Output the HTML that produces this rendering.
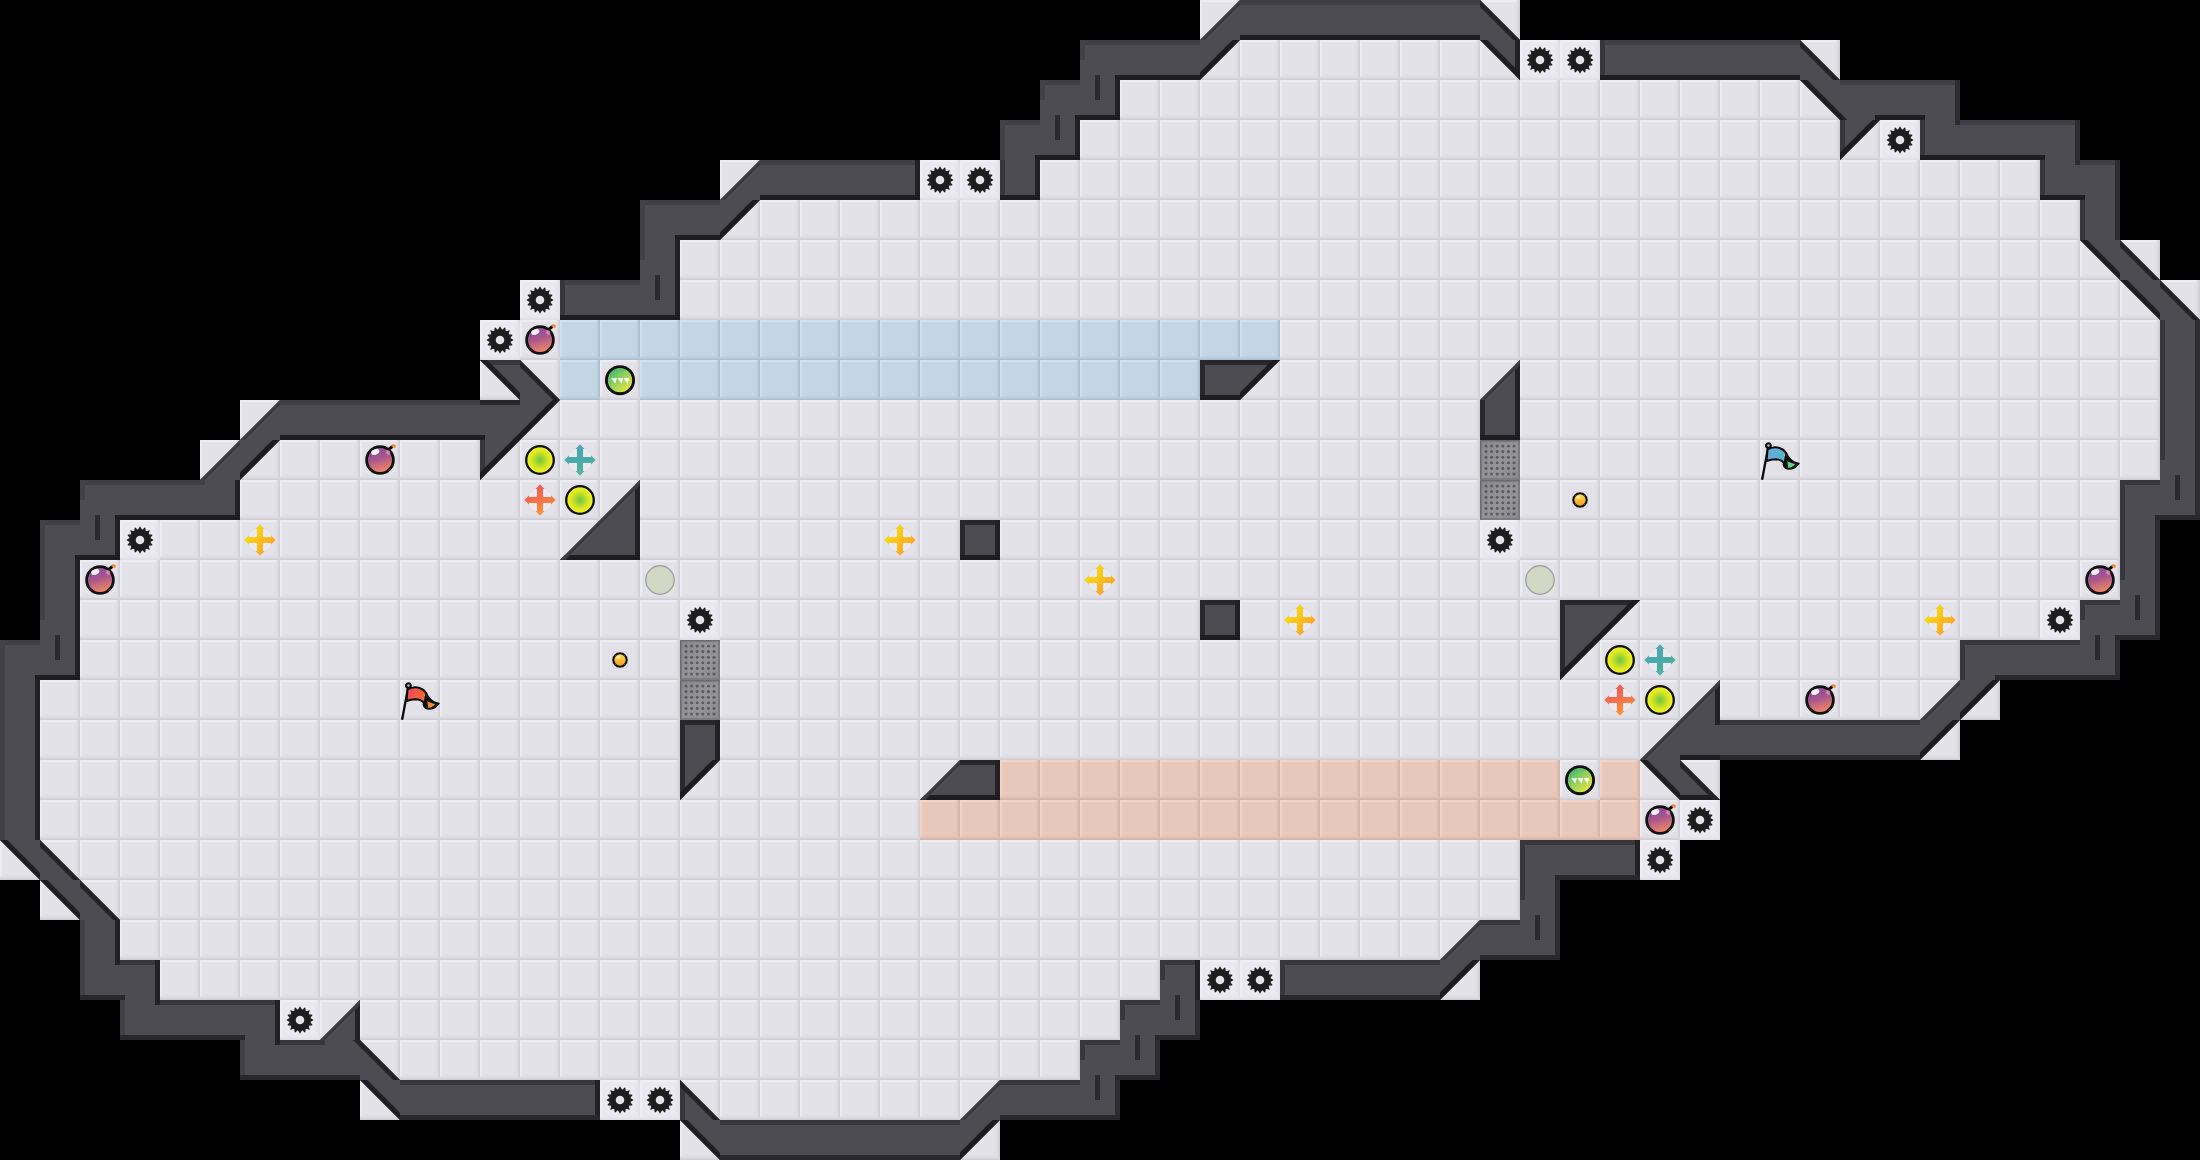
<!DOCTYPE html>
<html><head><meta charset="utf-8"><title>Map</title>
<style>html,body{margin:0;padding:0;background:#000;font-family:"Liberation Sans",sans-serif}svg{display:block}</style>
</head><body>
<svg width="2200" height="1160" viewBox="0 0 2200 1160" shape-rendering="geometricPrecision">
<defs>
<pattern id="ff" width="40" height="40" patternUnits="userSpaceOnUse">
<rect width="40" height="40" fill="#e2e1e7"/>
<rect x="7" y="7" width="26" height="26" fill="none" stroke="#e7e6ec" stroke-width="1"/>
<rect width="40" height="2.3" fill="#edecf2"/><rect width="2.3" height="40" fill="#edecf2"/>
<rect x="36.6" width="1.2" height="40" fill="#dddce2"/><rect x="37.8" width="1.1" height="40" fill="#d6d5dc"/><rect x="38.9" width="1.1" height="40" fill="#cfced6"/>
<rect y="36.6" width="40" height="1.2" fill="#dddce2"/><rect y="37.8" width="40" height="1.1" fill="#d6d5dc"/><rect y="38.9" width="40" height="1.1" fill="#cfced6"/>
</pattern>
<pattern id="fb" width="40" height="40" patternUnits="userSpaceOnUse">
<rect width="40" height="40" fill="#c4d6e6"/>
<rect width="40" height="2.3" fill="#d0e2f1"/><rect width="2.3" height="40" fill="#d0e2f1"/>
<rect x="36.6" width="1.2" height="40" fill="#bccee0"/><rect x="37.8" width="1.1" height="40" fill="#b4c7d9"/><rect x="38.9" width="1.1" height="40" fill="#acbfd2"/>
<rect y="36.6" width="40" height="1.2" fill="#bccee0"/><rect y="37.8" width="40" height="1.1" fill="#b4c7d9"/><rect y="38.9" width="40" height="1.1" fill="#acbfd2"/>
</pattern>
<pattern id="fr" width="40" height="40" patternUnits="userSpaceOnUse">
<rect width="40" height="40" fill="#e8c8ba"/>
<rect width="40" height="2.3" fill="#f4d4c6"/><rect width="2.3" height="40" fill="#f4d4c6"/>
<rect x="36.6" width="1.2" height="40" fill="#e2c0b2"/><rect x="37.8" width="1.1" height="40" fill="#dcb9ab"/><rect x="38.9" width="1.1" height="40" fill="#d6b4a8"/>
<rect y="36.6" width="40" height="1.2" fill="#e2c0b2"/><rect y="37.8" width="40" height="1.1" fill="#dcb9ab"/><rect y="38.9" width="40" height="1.1" fill="#d6b4a8"/>
</pattern>
<linearGradient id="gbm" x1="0" y1="0" x2="0.3" y2="1"><stop offset="0" stop-color="#8c48a6"/><stop offset="0.5" stop-color="#a4548e"/><stop offset="1" stop-color="#ec846c"/></linearGradient>
<radialGradient id="gpo" cx="0.5" cy="0.5" r="0.5"><stop offset="0" stop-color="#74c440"/><stop offset="0.7" stop-color="#e2ec22"/><stop offset="1" stop-color="#eef020"/></radialGradient>
<linearGradient id="ggp" x1="0.15" y1="0.1" x2="0.85" y2="0.95"><stop offset="0" stop-color="#3cb474"/><stop offset="0.5" stop-color="#9cd45a"/><stop offset="1" stop-color="#f4e63c"/></linearGradient>
<linearGradient id="gby" x1="0.1" y1="0.1" x2="0.9" y2="0.9"><stop offset="0" stop-color="#f8de10"/><stop offset="0.5" stop-color="#fcc21c"/><stop offset="1" stop-color="#ff9528"/></linearGradient>
<linearGradient id="gbr" x1="0.3" y1="0" x2="0.7" y2="1"><stop offset="0" stop-color="#f4505c"/><stop offset="0.5" stop-color="#f87448"/><stop offset="1" stop-color="#fc9a30"/></linearGradient>
<linearGradient id="gbb" x1="0.3" y1="0" x2="0.7" y2="1"><stop offset="0" stop-color="#48a4c0"/><stop offset="0.5" stop-color="#4aaaa8"/><stop offset="1" stop-color="#52b89c"/></linearGradient>
<linearGradient id="gbt" x1="0" y1="0" x2="0" y2="1"><stop offset="0" stop-color="#ffe048"/><stop offset="1" stop-color="#f59a1c"/></linearGradient>
<linearGradient id="gfr" x1="0" y1="0" x2="1" y2="0.4"><stop offset="0" stop-color="#f24458"/><stop offset="1" stop-color="#f86a38"/></linearGradient>
<linearGradient id="gfb" x1="0" y1="0" x2="1" y2="0.4"><stop offset="0" stop-color="#62aee8"/><stop offset="1" stop-color="#5cb4c4"/></linearGradient>
<linearGradient id="ggt" x1="0" y1="0" x2="1" y2="1"><stop offset="0" stop-color="#8a8a8d"/><stop offset="0.5" stop-color="#969699"/><stop offset="1" stop-color="#8e8e91"/></linearGradient>
<g id="sp"><rect width="40" height="40" fill="#f2f2f6" opacity="0.45"/><path d="M20.0 6.3L22.05 9.7L25.24 7.34L25.83 11.27L29.69 10.31L28.73 14.17L32.66 14.76L30.3 17.95L33.7 20.0L30.3 22.05L32.66 25.24L28.73 25.83L29.69 29.69L25.83 28.73L25.24 32.66L22.05 30.3L20.0 33.7L17.95 30.3L14.76 32.66L14.17 28.73L10.31 29.69L11.27 25.83L7.34 25.24L9.7 22.05L6.3 20.0L9.7 17.95L7.34 14.76L11.27 14.17L10.31 10.31L14.17 11.27L14.76 7.34L17.95 9.7z" fill="#1d1d1d"/><circle cx="20" cy="20" r="4.3" fill="#e4e3e8"/></g>
<g id="bm"><circle cx="20" cy="20" r="15.5" fill="#f0f0f4" opacity="0.5"/><path d="M28.3 9.6L31.8 7" stroke="#111" stroke-width="3" fill="none" stroke-linecap="round"/><circle cx="20" cy="20" r="13.4" fill="url(#gbm)" stroke="#121212" stroke-width="2.8"/><ellipse cx="15.3" cy="11.9" rx="4.3" ry="2.7" fill="#fff" opacity="0.95" transform="rotate(-22 15.3 11.9)"/><ellipse cx="28.2" cy="12.4" rx="1.9" ry="2.6" fill="#f59ac0" opacity="0.7" transform="rotate(-35 28.2 12.4)"/><path d="M32 4.2L35.8 4.8L35.2 8L32.3 7.4Z" fill="#f68a1e"/></g>
<g id="po"><circle cx="20" cy="20" r="13.8" fill="url(#gpo)" stroke="#0f0f14" stroke-width="2.3"/></g>
<g id="pf"><circle cx="20" cy="20" r="14.2" fill="#d1d9c5" stroke="#a2a4a2" stroke-width="1.4"/></g>
<g id="gp"><circle cx="20" cy="20.2" r="13.6" fill="url(#ggp)" stroke="#111" stroke-width="2.9"/><path d="M11 18h5.9l-1.6 5.6zM17.2 18h5.9l-1.6 5.6zM23.4 18h5.9l-1.6 5.6z" fill="#fff" opacity="0.95"/></g>
<g id="by"><circle cx="20" cy="20" r="12.2" fill="#f1f1f6" opacity="0.6" stroke="#d9d9e6" stroke-width="0.8" stroke-dasharray="2 1.5"/><path d="M17.0 17.0L17.0 9.1L15.6 9.1L20.0 4.3L24.4 9.1L23.0 9.1L23.0 17.0L23.0 17.0L30.9 17.0L30.9 15.6L35.7 20.0L30.9 24.4L30.9 23.0L23.0 23.0L23.0 23.0L23.0 30.9L24.4 30.9L20.0 35.7L15.6 30.9L17.0 30.9L17.0 23.0L17.0 23.0L9.1 23.0L9.1 24.4L4.3 20.0L9.1 15.6L9.1 17.0L17.0 17.0z" fill="url(#gby)"/></g>
<g id="br"><circle cx="20" cy="20" r="12.2" fill="#f1f1f6" opacity="0.6" stroke="#d9d9e6" stroke-width="0.8" stroke-dasharray="2 1.5"/><path d="M17.0 17.0L17.0 9.1L15.6 9.1L20.0 4.3L24.4 9.1L23.0 9.1L23.0 17.0L23.0 17.0L30.9 17.0L30.9 15.6L35.7 20.0L30.9 24.4L30.9 23.0L23.0 23.0L23.0 23.0L23.0 30.9L24.4 30.9L20.0 35.7L15.6 30.9L17.0 30.9L17.0 23.0L17.0 23.0L9.1 23.0L9.1 24.4L4.3 20.0L9.1 15.6L9.1 17.0L17.0 17.0z" fill="url(#gbr)"/></g>
<g id="bb"><circle cx="20" cy="20" r="12.2" fill="#f1f1f6" opacity="0.6" stroke="#d9d9e6" stroke-width="0.8" stroke-dasharray="2 1.5"/><path d="M17.0 17.0L17.0 9.1L15.6 9.1L20.0 4.3L24.4 9.1L23.0 9.1L23.0 17.0L23.0 17.0L30.9 17.0L30.9 15.6L35.7 20.0L30.9 24.4L30.9 23.0L23.0 23.0L23.0 23.0L23.0 30.9L24.4 30.9L20.0 35.7L15.6 30.9L17.0 30.9L17.0 23.0L17.0 23.0L9.1 23.0L9.1 24.4L4.3 20.0L9.1 15.6L9.1 17.0L17.0 17.0z" fill="url(#gbb)"/></g>
<g id="bt"><circle cx="20" cy="20" r="6.7" fill="url(#gbt)" stroke="#111" stroke-width="2.1"/><ellipse cx="18.6" cy="17.6" rx="2.2" ry="1.4" fill="#fff6b0" opacity="0.8"/></g>
<g id="gt"><rect width="40" height="40" fill="#7c7c7f"/><rect x="2.2" y="2.2" width="35.6" height="35.6" fill="url(#ggt)"/><rect x="0" y="0" width="40" height="1.2" fill="#6c6c6f"/><rect x="0" y="0" width="1.2" height="40" fill="#6c6c6f"/><g fill="#5c5c60"><circle cx="6.0" cy="6.0" r="1.55"/><circle cx="6.0" cy="11.6" r="1.55"/><circle cx="6.0" cy="17.2" r="1.55"/><circle cx="6.0" cy="22.8" r="1.55"/><circle cx="6.0" cy="28.4" r="1.55"/><circle cx="6.0" cy="34.0" r="1.55"/><circle cx="11.6" cy="6.0" r="1.55"/><circle cx="11.6" cy="11.6" r="1.55"/><circle cx="11.6" cy="17.2" r="1.55"/><circle cx="11.6" cy="22.8" r="1.55"/><circle cx="11.6" cy="28.4" r="1.55"/><circle cx="11.6" cy="34.0" r="1.55"/><circle cx="17.2" cy="6.0" r="1.55"/><circle cx="17.2" cy="11.6" r="1.55"/><circle cx="17.2" cy="17.2" r="1.55"/><circle cx="17.2" cy="22.8" r="1.55"/><circle cx="17.2" cy="28.4" r="1.55"/><circle cx="17.2" cy="34.0" r="1.55"/><circle cx="22.8" cy="6.0" r="1.55"/><circle cx="22.8" cy="11.6" r="1.55"/><circle cx="22.8" cy="17.2" r="1.55"/><circle cx="22.8" cy="22.8" r="1.55"/><circle cx="22.8" cy="28.4" r="1.55"/><circle cx="22.8" cy="34.0" r="1.55"/><circle cx="28.4" cy="6.0" r="1.55"/><circle cx="28.4" cy="11.6" r="1.55"/><circle cx="28.4" cy="17.2" r="1.55"/><circle cx="28.4" cy="22.8" r="1.55"/><circle cx="28.4" cy="28.4" r="1.55"/><circle cx="28.4" cy="34.0" r="1.55"/><circle cx="34.0" cy="6.0" r="1.55"/><circle cx="34.0" cy="11.6" r="1.55"/><circle cx="34.0" cy="17.2" r="1.55"/><circle cx="34.0" cy="22.8" r="1.55"/><circle cx="34.0" cy="28.4" r="1.55"/><circle cx="34.0" cy="34.0" r="1.55"/></g></g>
<g id="fr2"><path d="M8.4 6L2.3 38.8" stroke="#0c0c0c" stroke-width="2.3" stroke-linecap="round"/><path d="M26.2 13.3C28 16.5 30.5 20 34 22L38.9 23.6C37 26.2 34 28.8 30 29C27 29.2 24.2 28 23.4 24.6Z" fill="#101612" stroke="#0c0c0c" stroke-width="1.6" stroke-linejoin="round"/><path d="M27.4 21.6L35.2 24.3C33.5 26.4 31 27.8 28.2 27.9Z" fill="#fb8a2c"/><path d="M7.6 9.7C11 7.4 16 6.9 19.5 8C23 9.2 25 11 26.4 13.5C25.6 17 25 20 24.6 23.6C22.5 20.8 19 19.3 15.5 19.2C12 19.2 9 20 6.6 21Z" fill="url(#gfr)" stroke="#0c0c0c" stroke-width="1.9" stroke-linejoin="round"/><circle cx="8.4" cy="5.6" r="2.3" fill="#bcbcc2" stroke="#0c0c0c" stroke-width="2.1"/></g>
<g id="fb2"><path d="M8.4 6L2.3 38.8" stroke="#0c0c0c" stroke-width="2.3" stroke-linecap="round"/><path d="M26.2 13.3C28 16.5 30.5 20 34 22L38.9 23.6C37 26.2 34 28.8 30 29C27 29.2 24.2 28 23.4 24.6Z" fill="#101612" stroke="#0c0c0c" stroke-width="1.6" stroke-linejoin="round"/><path d="M27.4 21.6L35.2 24.3C33.5 26.4 31 27.8 28.2 27.9Z" fill="#5cd48c"/><path d="M7.6 9.7C11 7.4 16 6.9 19.5 8C23 9.2 25 11 26.4 13.5C25.6 17 25 20 24.6 23.6C22.5 20.8 19 19.3 15.5 19.2C12 19.2 9 20 6.6 21Z" fill="url(#gfb)" stroke="#0c0c0c" stroke-width="1.9" stroke-linejoin="round"/><circle cx="8.4" cy="5.6" r="2.3" fill="#bcbcc2" stroke="#0c0c0c" stroke-width="2.1"/></g>
</defs>
<rect width="2200" height="1160" fill="#000"/>
<rect x="1200" y="0" width="40" height="40" fill="url(#ff)"/><rect x="1480" y="0" width="40" height="40" fill="url(#ff)"/><rect x="1200" y="40" width="400" height="40" fill="url(#ff)"/><rect x="1800" y="40" width="40" height="40" fill="url(#ff)"/><rect x="1120" y="80" width="720" height="40" fill="url(#ff)"/><rect x="1080" y="120" width="840" height="40" fill="url(#ff)"/><rect x="720" y="160" width="40" height="40" fill="url(#ff)"/><rect x="920" y="160" width="80" height="40" fill="url(#ff)"/><rect x="1040" y="160" width="1000" height="40" fill="url(#ff)"/><rect x="720" y="200" width="1360" height="40" fill="url(#ff)"/><rect x="680" y="240" width="1480" height="40" fill="url(#ff)"/><rect x="520" y="280" width="40" height="40" fill="url(#ff)"/><rect x="680" y="280" width="1520" height="40" fill="url(#ff)"/><rect x="480" y="320" width="80" height="40" fill="url(#ff)"/><rect x="560" y="320" width="720" height="40" fill="url(#fb)"/><rect x="1280" y="320" width="880" height="40" fill="url(#ff)"/><rect x="480" y="360" width="80" height="40" fill="url(#ff)"/><rect x="560" y="360" width="40" height="40" fill="url(#fb)"/><rect x="600" y="360" width="40" height="40" fill="url(#ff)"/><rect x="640" y="360" width="560" height="40" fill="url(#fb)"/><rect x="1240" y="360" width="920" height="40" fill="url(#ff)"/><rect x="240" y="400" width="40" height="40" fill="url(#ff)"/><rect x="520" y="400" width="960" height="40" fill="url(#ff)"/><rect x="1520" y="400" width="640" height="40" fill="url(#ff)"/><rect x="200" y="440" width="1960" height="40" fill="url(#ff)"/><rect x="240" y="480" width="1880" height="40" fill="url(#ff)"/><rect x="120" y="520" width="480" height="40" fill="url(#ff)"/><rect x="640" y="520" width="320" height="40" fill="url(#ff)"/><rect x="1000" y="520" width="1120" height="40" fill="url(#ff)"/><rect x="80" y="560" width="2040" height="40" fill="url(#ff)"/><rect x="80" y="600" width="1120" height="40" fill="url(#ff)"/><rect x="1240" y="600" width="320" height="40" fill="url(#ff)"/><rect x="1600" y="600" width="480" height="40" fill="url(#ff)"/><rect x="80" y="640" width="1880" height="40" fill="url(#ff)"/><rect x="40" y="680" width="1960" height="40" fill="url(#ff)"/><rect x="40" y="720" width="640" height="40" fill="url(#ff)"/><rect x="720" y="720" width="960" height="40" fill="url(#ff)"/><rect x="1920" y="720" width="40" height="40" fill="url(#ff)"/><rect x="40" y="760" width="920" height="40" fill="url(#ff)"/><rect x="1000" y="760" width="560" height="40" fill="url(#fr)"/><rect x="1560" y="760" width="40" height="40" fill="url(#ff)"/><rect x="1600" y="760" width="40" height="40" fill="url(#fr)"/><rect x="1640" y="760" width="80" height="40" fill="url(#ff)"/><rect x="40" y="800" width="880" height="40" fill="url(#ff)"/><rect x="920" y="800" width="720" height="40" fill="url(#fr)"/><rect x="1640" y="800" width="80" height="40" fill="url(#ff)"/><rect x="0" y="840" width="1520" height="40" fill="url(#ff)"/><rect x="1640" y="840" width="40" height="40" fill="url(#ff)"/><rect x="40" y="880" width="1480" height="40" fill="url(#ff)"/><rect x="120" y="920" width="1360" height="40" fill="url(#ff)"/><rect x="160" y="960" width="1000" height="40" fill="url(#ff)"/><rect x="1200" y="960" width="80" height="40" fill="url(#ff)"/><rect x="1440" y="960" width="40" height="40" fill="url(#ff)"/><rect x="280" y="1000" width="840" height="40" fill="url(#ff)"/><rect x="360" y="1040" width="720" height="40" fill="url(#ff)"/><rect x="360" y="1080" width="40" height="40" fill="url(#ff)"/><rect x="600" y="1080" width="400" height="40" fill="url(#ff)"/><rect x="680" y="1120" width="40" height="40" fill="url(#ff)"/><rect x="960" y="1120" width="40" height="40" fill="url(#ff)"/>
<path d="M1240 40L1200 40L1240 0zM1240 0h40v40h-40zM1280 0h40v40h-40zM1320 0h40v40h-40zM1360 0h40v40h-40zM1400 0h40v40h-40zM1440 0h40v40h-40zM1480 40L1520 40L1480 0zM1080 40h40v40h-40zM1120 40h40v40h-40zM1160 40h40v40h-40zM1200 40L1240 40L1200 80zM1520 40L1480 40L1520 80zM1600 40h40v40h-40zM1640 40h40v40h-40zM1680 40h40v40h-40zM1720 40h40v40h-40zM1760 40h40v40h-40zM1800 80L1840 80L1800 40zM1040 80h40v40h-40zM1080 80h40v40h-40zM1840 80L1800 80L1840 120zM1840 80h40v40h-40zM1880 80h40v40h-40zM1920 80h40v40h-40zM1000 120h40v40h-40zM1040 120h40v40h-40zM1840 120L1880 120L1840 160zM1920 120h40v40h-40zM1960 120h40v40h-40zM2000 120h40v40h-40zM2040 120h40v40h-40zM760 200L720 200L760 160zM760 160h40v40h-40zM800 160h40v40h-40zM840 160h40v40h-40zM880 160h40v40h-40zM1000 160h40v40h-40zM2040 160h40v40h-40zM2080 160h40v40h-40zM640 200h40v40h-40zM680 200h40v40h-40zM720 200L760 200L720 240zM2080 200h40v40h-40zM640 240h40v40h-40zM2120 240L2080 240L2120 280zM2120 280L2160 280L2120 240zM560 280h40v40h-40zM600 280h40v40h-40zM640 280h40v40h-40zM2160 280L2120 280L2160 320zM2160 320L2200 320L2160 280zM2160 320h40v40h-40zM520 360L480 360L520 400zM520 400L560 400L520 360zM1200 360h40v40h-40zM1240 360L1280 360L1240 400zM1520 400L1480 400L1520 360zM2160 360h40v40h-40zM280 440L240 440L280 400zM280 400h40v40h-40zM320 400h40v40h-40zM360 400h40v40h-40zM400 400h40v40h-40zM440 400h40v40h-40zM480 400h40v40h-40zM520 400L560 400L520 440zM1480 400h40v40h-40zM2160 400h40v40h-40zM240 480L200 480L240 440zM240 440L280 440L240 480zM480 440L520 440L480 480zM2160 440h40v40h-40zM80 480h40v40h-40zM120 480h40v40h-40zM160 480h40v40h-40zM200 480h40v40h-40zM640 520L600 520L640 480zM2120 480h40v40h-40zM2160 480h40v40h-40zM40 520h40v40h-40zM80 520h40v40h-40zM600 560L560 560L600 520zM600 520h40v40h-40zM960 520h40v40h-40zM2120 520h40v40h-40zM40 560h40v40h-40zM2120 560h40v40h-40zM40 600h40v40h-40zM1200 600h40v40h-40zM1560 600h40v40h-40zM1600 600L1640 600L1600 640zM2080 600h40v40h-40zM2120 600h40v40h-40zM0 640h40v40h-40zM40 640h40v40h-40zM1560 640L1600 640L1560 680zM1960 640h40v40h-40zM2000 640h40v40h-40zM2040 640h40v40h-40zM2080 640h40v40h-40zM0 680h40v40h-40zM1720 720L1680 720L1720 680zM1960 720L1920 720L1960 680zM1960 680L2000 680L1960 720zM0 720h40v40h-40zM680 720h40v40h-40zM1680 760L1640 760L1680 720zM1680 720h40v40h-40zM1720 720h40v40h-40zM1760 720h40v40h-40zM1800 720h40v40h-40zM1840 720h40v40h-40zM1880 720h40v40h-40zM1920 720L1960 720L1920 760zM0 760h40v40h-40zM680 760L720 760L680 800zM960 800L920 800L960 760zM960 760h40v40h-40zM1680 760L1640 760L1680 800zM1680 800L1720 800L1680 760zM0 800h40v40h-40zM40 840L0 840L40 880zM40 880L80 880L40 840zM1520 840h40v40h-40zM1560 840h40v40h-40zM1600 840h40v40h-40zM80 880L40 880L80 920zM80 920L120 920L80 880zM1520 880h40v40h-40zM80 920h40v40h-40zM1480 960L1440 960L1480 920zM1480 920h40v40h-40zM1520 920h40v40h-40zM80 960h40v40h-40zM120 960h40v40h-40zM1160 960h40v40h-40zM1280 960h40v40h-40zM1320 960h40v40h-40zM1360 960h40v40h-40zM1400 960h40v40h-40zM1440 960L1480 960L1440 1000zM120 1000h40v40h-40zM160 1000h40v40h-40zM200 1000h40v40h-40zM240 1000h40v40h-40zM360 1040L320 1040L360 1000zM1120 1000h40v40h-40zM1160 1000h40v40h-40zM240 1040h40v40h-40zM280 1040h40v40h-40zM320 1040h40v40h-40zM360 1080L400 1080L360 1040zM1080 1040h40v40h-40zM1120 1040h40v40h-40zM400 1080L360 1080L400 1120zM400 1080h40v40h-40zM440 1080h40v40h-40zM480 1080h40v40h-40zM520 1080h40v40h-40zM560 1080h40v40h-40zM680 1120L720 1120L680 1080zM1000 1120L960 1120L1000 1080zM1000 1080h40v40h-40zM1040 1080h40v40h-40zM1080 1080h40v40h-40zM720 1120L680 1120L720 1160zM720 1120h40v40h-40zM760 1120h40v40h-40zM800 1120h40v40h-40zM840 1120h40v40h-40zM880 1120h40v40h-40zM920 1120h40v40h-40zM960 1120L1000 1120L960 1160z" fill="#4d4c52"/><path d="M1240 0h20v5h-20zM1260 0h20v5h-20zM1280 0h20v5h-20zM1300 0h20v5h-20zM1320 0h20v5h-20zM1340 0h20v5h-20zM1360 0h20v5h-20zM1380 0h20v5h-20zM1400 0h20v5h-20zM1420 0h20v5h-20zM1440 0h20v5h-20zM1460 0h20v5h-20zM1080 40h20v5h-20zM1100 40h20v5h-20zM1120 40h20v5h-20zM1140 40h20v5h-20zM1160 40h20v5h-20zM1180 40h20v5h-20zM1600 40h20v5h-20zM1620 40h20v5h-20zM1640 40h20v5h-20zM1660 40h20v5h-20zM1680 40h20v5h-20zM1700 40h20v5h-20zM1720 40h20v5h-20zM1740 40h20v5h-20zM1760 40h20v5h-20zM1780 40h20v5h-20zM1040 80h20v5h-20zM1060 80h20v5h-20zM1840 80h20v5h-20zM1860 80h20v5h-20zM1880 80h20v5h-20zM1900 80h20v5h-20zM1920 80h20v5h-20zM1940 80h20v5h-20zM1000 120h20v5h-20zM1020 120h20v5h-20zM1960 120h20v5h-20zM1980 120h20v5h-20zM2000 120h20v5h-20zM2020 120h20v5h-20zM2040 120h20v5h-20zM2060 120h20v5h-20zM760 160h20v5h-20zM780 160h20v5h-20zM800 160h20v5h-20zM820 160h20v5h-20zM840 160h20v5h-20zM860 160h20v5h-20zM880 160h20v5h-20zM900 160h20v5h-20zM2080 160h20v5h-20zM2100 160h20v5h-20zM640 200h20v5h-20zM660 200h20v5h-20zM680 200h20v5h-20zM700 200h20v5h-20zM560 280h20v5h-20zM580 280h20v5h-20zM600 280h20v5h-20zM620 280h20v5h-20zM280 400h20v5h-20zM300 400h20v5h-20zM320 400h20v5h-20zM340 400h20v5h-20zM360 400h20v5h-20zM380 400h20v5h-20zM400 400h20v5h-20zM420 400h20v5h-20zM440 400h20v5h-20zM460 400h20v5h-20zM80 480h20v5h-20zM100 480h20v5h-20zM120 480h20v5h-20zM140 480h20v5h-20zM160 480h20v5h-20zM180 480h20v5h-20zM200 480h5v5h-5zM40 520h20v5h-20zM60 520h20v5h-20zM0 640h20v5h-20zM20 640h20v5h-20z" fill="#403f45"/><path d="M1080 40h5v20h-5zM1040 80h5v20h-5zM1000 120h5v20h-5zM1000 140h5v20h-5zM640 200h5v20h-5zM640 220h5v20h-5zM640 240h5v20h-5zM80 480h5v20h-5zM40 520h5v20h-5zM40 540h5v20h-5zM40 560h5v20h-5zM40 580h5v20h-5zM40 600h5v20h-5zM0 640h5v20h-5zM0 660h5v20h-5zM0 680h5v20h-5zM0 700h5v20h-5zM0 720h5v20h-5zM0 740h5v20h-5zM0 760h5v20h-5zM0 780h5v20h-5zM0 800h5v20h-5zM0 820h5v20h-5zM80 920h5v20h-5zM80 940h5v20h-5zM80 960h5v20h-5zM80 980h5v20h-5zM120 1000h5v20h-5zM120 1020h5v20h-5zM240 1040h5v20h-5zM240 1060h5v20h-5z" fill="#424147"/><path d="M520 360L480 360L485 365L520 365zM2120 480h20v5h-20zM2140 480h20v5h-20zM2080 600h20v5h-20zM2100 600h20v5h-20zM1960 640h20v5h-20zM1980 640h20v5h-20zM2000 640h20v5h-20zM2020 640h20v5h-20zM2040 640h20v5h-20zM2060 640h20v5h-20zM1720 720h20v5h-20zM1740 720h20v5h-20zM1760 720h20v5h-20zM1780 720h20v5h-20zM1800 720h20v5h-20zM1820 720h20v5h-20zM1840 720h20v5h-20zM1860 720h20v5h-20zM1880 720h20v5h-20zM1900 720h20v5h-20zM1520 840h20v5h-20zM1540 840h20v5h-20zM1560 840h20v5h-20zM1580 840h20v5h-20zM1600 840h20v5h-20zM1620 840h20v5h-20zM1480 920h20v5h-20zM1500 920h20v5h-20zM120 960h20v5h-20zM140 960h20v5h-20zM1160 960h20v5h-20zM1180 960h20v5h-20zM1280 960h20v5h-20zM1300 960h20v5h-20zM1320 960h20v5h-20zM1340 960h20v5h-20zM1360 960h20v5h-20zM1380 960h20v5h-20zM1400 960h20v5h-20zM1420 960h20v5h-20zM160 1000h20v5h-20zM180 1000h20v5h-20zM200 1000h20v5h-20zM220 1000h20v5h-20zM240 1000h20v5h-20zM260 1000h20v5h-20zM1120 1000h20v5h-20zM1140 1000h20v5h-20zM280 1040h20v5h-20zM300 1040h20v5h-20zM320 1040h5v5h-5zM1080 1040h20v5h-20zM1100 1040h20v5h-20zM400 1080h20v5h-20zM420 1080h20v5h-20zM440 1080h20v5h-20zM460 1080h20v5h-20zM480 1080h20v5h-20zM500 1080h20v5h-20zM520 1080h20v5h-20zM540 1080h20v5h-20zM560 1080h20v5h-20zM580 1080h20v5h-20zM1000 1080h20v5h-20zM1020 1080h20v5h-20zM1040 1080h20v5h-20zM1060 1080h20v5h-20zM720 1120h20v5h-20zM740 1120h20v5h-20zM760 1120h20v5h-20zM780 1120h20v5h-20zM800 1120h20v5h-20zM820 1120h20v5h-20zM840 1120h20v5h-20zM860 1120h20v5h-20zM880 1120h20v5h-20zM900 1120h20v5h-20zM920 1120h20v5h-20zM940 1120h20v5h-20z" fill="#37373d"/><path d="M1600 40h5v20h-5zM1600 60h5v20h-5zM1840 120L1840 160L1845 155L1845 120zM1920 120h5v20h-5zM1920 140h5v20h-5zM1000 160h5v20h-5zM1000 180h5v20h-5zM2040 160h5v20h-5zM2040 180h5v20h-5zM2080 200h5v20h-5zM2080 220h5v20h-5zM560 280h5v20h-5zM560 300h5v20h-5zM2160 320h5v20h-5zM2160 340h5v20h-5zM2160 360h5v20h-5zM2160 380h5v20h-5zM2160 400h5v20h-5zM2160 420h5v20h-5zM480 440L480 480L485 475L485 440zM2160 440h5v20h-5zM2120 480h5v20h-5zM2120 500h5v20h-5zM2120 520h5v20h-5zM2120 540h5v20h-5zM2120 560h5v20h-5zM2080 600h5v20h-5zM1960 640h5v20h-5zM1960 660h5v20h-5zM1520 840h5v20h-5zM1520 860h5v20h-5zM1520 880h5v20h-5zM1160 960h5v20h-5zM1280 960h5v20h-5zM1280 980h5v20h-5zM1120 1000h5v20h-5zM1080 1040h5v20h-5zM680 1120L680 1080L685 1085L685 1120z" fill="#36363c"/><path d="M1200 360h20v5h-20zM1220 360h20v5h-20zM1240 360L1280 360L1275 365L1240 365zM480 400h20v5h-20zM500 400h20v5h-20zM960 520h20v5h-20zM980 520h20v5h-20zM1200 600h20v5h-20zM1220 600h20v5h-20zM1560 600h20v5h-20zM1580 600h20v5h-20zM1600 600L1640 600L1635 605L1600 605zM680 720h20v5h-20zM700 720h20v5h-20zM960 760h20v5h-20zM980 760h20v5h-20z" fill="#27272c"/><path d="M1200 360h5v20h-5zM1200 380h5v20h-5zM1480 400h5v20h-5zM1480 420h5v20h-5zM960 520h5v20h-5zM960 540h5v20h-5zM1200 600h5v20h-5zM1200 620h5v20h-5zM1560 600h5v20h-5zM1560 620h5v20h-5zM1560 640L1560 680L1565 675L1565 640zM680 720h5v20h-5zM680 740h5v20h-5zM680 760L680 800L685 795L685 760z" fill="#28282d"/><path d="M1955 80h5v20h-5zM1955 100h5v20h-5zM1955 120h5v5h-5zM2075 120h5v20h-5zM2075 140h5v20h-5zM2075 160h5v5h-5zM2115 160h5v20h-5zM2115 180h5v20h-5zM2115 200h5v20h-5zM2115 220h5v20h-5zM2195 320h5v20h-5zM2195 340h5v20h-5zM2195 360h5v20h-5zM2195 380h5v20h-5zM2195 400h5v20h-5zM2195 420h5v20h-5zM2195 440h5v20h-5zM2195 460h5v20h-5zM2195 480h5v20h-5zM2195 500h5v20h-5zM2155 520h5v20h-5zM2155 540h5v20h-5zM2155 560h5v20h-5zM2155 580h5v20h-5zM2155 600h5v20h-5zM2155 620h5v20h-5zM2115 640h5v20h-5zM2115 660h5v20h-5zM1555 880h5v20h-5zM1555 900h5v20h-5zM1555 920h5v20h-5zM1555 940h5v20h-5zM1195 1000h5v20h-5zM1195 1020h5v20h-5zM1155 1040h5v20h-5zM1155 1060h5v20h-5zM1115 1080h5v20h-5zM1115 1100h5v20h-5z" fill="#2c2c31"/><path d="M1520 40L1520 80L1515 75L1515 40zM1115 80h5v20h-5zM1115 100h5v20h-5zM1075 120h5v20h-5zM1075 140h5v20h-5zM915 160h5v20h-5zM915 180h5v20h-5zM1035 160h5v20h-5zM1035 180h5v20h-5zM675 240h5v20h-5zM675 260h5v20h-5zM675 280h5v20h-5zM675 300h5v20h-5zM1520 400L1520 360L1515 365L1515 400zM1515 400h5v20h-5zM1515 420h5v20h-5zM235 480h5v20h-5zM235 500h5v20h-5zM640 520L640 480L635 485L635 520zM115 520h5v20h-5zM115 540h5v20h-5zM635 520h5v20h-5zM635 540h5v20h-5zM995 520h5v20h-5zM995 540h5v20h-5zM75 560h5v20h-5zM75 580h5v20h-5zM75 600h5v20h-5zM75 620h5v20h-5zM1235 600h5v20h-5zM1235 620h5v20h-5zM75 640h5v20h-5zM75 660h5v20h-5zM35 680h5v20h-5zM35 700h5v20h-5zM1720 720L1720 680L1715 685L1715 720zM35 720h5v20h-5zM35 740h5v20h-5zM715 720h5v20h-5zM715 740h5v20h-5zM1715 720h5v5h-5zM35 760h5v20h-5zM35 780h5v20h-5zM995 760h5v20h-5zM995 780h5v20h-5zM35 800h5v20h-5zM35 820h5v20h-5zM1635 840h5v20h-5zM1635 860h5v20h-5zM115 920h5v20h-5zM115 940h5v20h-5zM115 960h5v5h-5zM155 960h5v20h-5zM155 980h5v20h-5zM1195 960h5v20h-5zM1195 980h5v20h-5zM155 1000h5v5h-5zM275 1000h5v20h-5zM275 1020h5v20h-5zM360 1040L360 1000L355 1005L355 1040zM275 1040h5v5h-5zM595 1080h5v20h-5zM595 1100h5v20h-5z" fill="#222226"/><path d="M2155 515h5v5h-5zM2160 515h20v5h-20zM2180 515h20v5h-20zM2115 635h5v5h-5zM2120 635h20v5h-20zM2140 635h20v5h-20zM1995 675h5v5h-5zM2000 675h20v5h-20zM2020 675h20v5h-20zM2040 675h20v5h-20zM2060 675h20v5h-20zM2080 675h20v5h-20zM2100 675h20v5h-20zM1720 755h20v5h-20zM1740 755h20v5h-20zM1760 755h20v5h-20zM1780 755h20v5h-20zM1800 755h20v5h-20zM1820 755h20v5h-20zM1840 755h20v5h-20zM1860 755h20v5h-20zM1880 755h20v5h-20zM1900 755h20v5h-20zM1555 875h5v5h-5zM1560 875h20v5h-20zM1580 875h20v5h-20zM1600 875h20v5h-20zM1620 875h20v5h-20zM1480 955h20v5h-20zM1500 955h20v5h-20zM1520 955h20v5h-20zM1540 955h20v5h-20zM80 995h20v5h-20zM100 995h20v5h-20zM120 995h5v5h-5zM1280 995h20v5h-20zM1300 995h20v5h-20zM1320 995h20v5h-20zM1340 995h20v5h-20zM1360 995h20v5h-20zM1380 995h20v5h-20zM1400 995h20v5h-20zM1420 995h20v5h-20zM120 1035h20v5h-20zM140 1035h20v5h-20zM160 1035h20v5h-20zM180 1035h20v5h-20zM200 1035h20v5h-20zM220 1035h20v5h-20zM240 1035h5v5h-5zM1155 1035h5v5h-5zM1160 1035h20v5h-20zM1180 1035h20v5h-20zM240 1075h20v5h-20zM260 1075h20v5h-20zM280 1075h20v5h-20zM300 1075h20v5h-20zM320 1075h20v5h-20zM340 1075h20v5h-20zM1115 1075h5v5h-5zM1120 1075h20v5h-20zM1140 1075h20v5h-20zM400 1115h20v5h-20zM420 1115h20v5h-20zM440 1115h20v5h-20zM460 1115h20v5h-20zM480 1115h20v5h-20zM500 1115h20v5h-20zM520 1115h20v5h-20zM540 1115h20v5h-20zM560 1115h20v5h-20zM580 1115h20v5h-20zM1000 1115h20v5h-20zM1020 1115h20v5h-20zM1040 1115h20v5h-20zM1060 1115h20v5h-20zM1080 1115h20v5h-20zM1100 1115h20v5h-20zM720 1155h20v5h-20zM740 1155h20v5h-20zM760 1155h20v5h-20zM780 1155h20v5h-20zM800 1155h20v5h-20zM820 1155h20v5h-20zM840 1155h20v5h-20zM860 1155h20v5h-20zM880 1155h20v5h-20zM900 1155h20v5h-20zM920 1155h20v5h-20zM940 1155h20v5h-20z" fill="#29292d"/><path d="M1240 35h20v5h-20zM1260 35h20v5h-20zM1280 35h20v5h-20zM1300 35h20v5h-20zM1320 35h20v5h-20zM1340 35h20v5h-20zM1360 35h20v5h-20zM1380 35h20v5h-20zM1400 35h20v5h-20zM1420 35h20v5h-20zM1440 35h20v5h-20zM1460 35h20v5h-20zM1115 75h5v5h-5zM1120 75h20v5h-20zM1140 75h20v5h-20zM1160 75h20v5h-20zM1180 75h20v5h-20zM1600 75h20v5h-20zM1620 75h20v5h-20zM1640 75h20v5h-20zM1660 75h20v5h-20zM1680 75h20v5h-20zM1700 75h20v5h-20zM1720 75h20v5h-20zM1740 75h20v5h-20zM1760 75h20v5h-20zM1780 75h20v5h-20zM1075 115h5v5h-5zM1080 115h20v5h-20zM1100 115h20v5h-20zM1875 115h5v5h-5zM1880 115h20v5h-20zM1900 115h20v5h-20zM1920 115h5v5h-5zM1035 155h5v5h-5zM1040 155h20v5h-20zM1060 155h20v5h-20zM1920 155h20v5h-20zM1940 155h20v5h-20zM1960 155h20v5h-20zM1980 155h20v5h-20zM2000 155h20v5h-20zM2020 155h20v5h-20zM2040 155h5v5h-5zM760 195h20v5h-20zM780 195h20v5h-20zM800 195h20v5h-20zM820 195h20v5h-20zM840 195h20v5h-20zM860 195h20v5h-20zM880 195h20v5h-20zM900 195h20v5h-20zM1000 195h20v5h-20zM1020 195h20v5h-20zM2040 195h20v5h-20zM2060 195h20v5h-20zM2080 195h5v5h-5zM675 235h5v5h-5zM680 235h20v5h-20zM700 235h20v5h-20zM560 315h20v5h-20zM580 315h20v5h-20zM600 315h20v5h-20zM620 315h20v5h-20zM640 315h20v5h-20zM660 315h20v5h-20zM1200 395h20v5h-20zM1220 395h20v5h-20zM280 435h20v5h-20zM300 435h20v5h-20zM320 435h20v5h-20zM340 435h20v5h-20zM360 435h20v5h-20zM380 435h20v5h-20zM400 435h20v5h-20zM420 435h20v5h-20zM440 435h20v5h-20zM460 435h20v5h-20zM480 435h5v5h-5zM1480 435h20v5h-20zM1500 435h20v5h-20zM115 515h5v5h-5zM120 515h20v5h-20zM140 515h20v5h-20zM160 515h20v5h-20zM180 515h20v5h-20zM200 515h20v5h-20zM220 515h20v5h-20zM75 555h5v5h-5zM80 555h20v5h-20zM100 555h20v5h-20zM600 560L560 560L565 555L600 555zM600 555h20v5h-20zM620 555h20v5h-20zM960 555h20v5h-20zM980 555h20v5h-20zM1200 635h20v5h-20zM1220 635h20v5h-20zM35 675h5v5h-5zM40 675h20v5h-20zM60 675h20v5h-20zM1680 755h20v5h-20zM1700 755h20v5h-20zM960 800L920 800L925 795L960 795zM960 795h20v5h-20zM980 795h20v5h-20zM1680 800L1720 800L1715 795L1680 795z" fill="#1e1e22"/><path d="M1200 40L1240 0L1240 5.0L1205.0 40zM720 200L760 160L760 165.0L725.0 200zM1480 400L1520 360L1520 365.0L1485.0 400zM240 440L280 400L280 405.0L245.0 440zM200 480L240 440L240 445.0L205.0 480zM600 520L640 480L640 485.0L605.0 520zM560 560L600 520L600 525.0L565.0 560zM600 520L605.0 520L600 525.0zM1680 720L1720 680L1720 685.0L1685.0 720zM1920 720L1960 680L1960 685.0L1925.0 720zM1640 760L1680 720L1680 725.0L1645.0 760zM1680 720L1685.0 720L1680 725.0zM920 800L960 760L960 765.0L925.0 800zM1440 960L1480 920L1480 925.0L1445.0 960zM320 1040L360 1000L360 1005.0L325.0 1040zM960 1120L1000 1080L1000 1085.0L965.0 1120z" fill="#3a3a40"/><path d="M1520 40L1480 0L1480 7.0L1513.0 40zM1840 80L1800 40L1800 47.0L1833.0 80zM2160 280L2120 240L2120 247.0L2153.0 280zM2200 320L2160 280L2160 287.0L2193.0 320zM560 400L520 360L520 367.0L553.0 400zM1720 800L1680 760L1680 767.0L1713.0 800zM80 880L40 840L40 847.0L73.0 880zM120 920L80 880L80 887.0L113.0 920zM360 1040L353.0 1040L360 1047.0zM400 1080L360 1040L360 1047.0L393.0 1080zM720 1120L680 1080L680 1087.0L713.0 1120z" fill="#242428"/><path d="M1480 40L1520 80L1520 72.8L1487.2 40zM1800 80L1840 120L1840 112.8L1807.2 80zM1840 120L1847.2 120L1840 112.8zM2080 240L2120 280L2120 272.8L2087.2 240zM2120 280L2160 320L2160 312.8L2127.2 280zM480 360L520 400L520 392.8L487.2 360zM1640 760L1680 800L1680 792.8L1647.2 760zM0 840L40 880L40 872.8L7.2 840zM40 880L80 920L80 912.8L47.2 880zM360 1080L400 1120L400 1112.8L367.2 1080zM680 1120L720 1160L720 1152.8L687.2 1120z" fill="#1e1e22"/><path d="M1240 40L1200 80L1200 72.4L1232.4 40zM1880 120L1840 160L1840 152.4L1872.4 120zM760 200L720 240L720 232.4L752.4 200zM1280 360L1240 400L1240 392.4L1272.4 360zM520 440L512.4 440L520 432.4zM560 400L520 440L520 432.4L552.4 400zM280 440L240 480L240 472.4L272.4 440zM520 440L480 480L480 472.4L512.4 440zM1600 640L1592.4 640L1600 632.4zM1640 600L1600 640L1600 632.4L1632.4 600zM1600 640L1560 680L1560 672.4L1592.4 640zM2000 680L1960 720L1960 712.4L1992.4 680zM1960 720L1920 760L1920 752.4L1952.4 720zM720 760L680 800L680 792.4L712.4 760zM1480 960L1440 1000L1440 992.4L1472.4 960zM1000 1120L960 1160L960 1152.4L992.4 1120z" fill="#1c1c20"/><path d="M1095 75h5v25h-5zM1055 115h5v25h-5zM655 275h5v25h-5zM2175 475h5v25h-5zM95 515h5v25h-5zM2135 595h5v25h-5zM55 635h5v25h-5zM2095 635h5v25h-5zM1535 915h5v25h-5zM1175 995h5v25h-5zM1135 1035h5v25h-5zM1095 1075h5v25h-5z" fill="#2a2a2f"/>
<use href="#sp" x="1520" y="40"/><use href="#sp" x="1560" y="40"/><use href="#sp" x="1880" y="120"/><use href="#sp" x="920" y="160"/><use href="#sp" x="960" y="160"/><use href="#sp" x="520" y="280"/><use href="#sp" x="480" y="320"/><use href="#bm" x="520" y="320"/><use href="#gp" x="600" y="360"/><use href="#bm" x="360" y="440"/><use href="#po" x="520" y="440"/><use href="#bb" x="560" y="440"/><use href="#gt" x="1480" y="440"/><use href="#fb2" x="1760" y="440"/><use href="#br" x="520" y="480"/><use href="#po" x="560" y="480"/><use href="#gt" x="1480" y="480"/><use href="#bt" x="1560" y="480"/><use href="#sp" x="120" y="520"/><use href="#by" x="240" y="520"/><use href="#by" x="880" y="520"/><use href="#sp" x="1480" y="520"/><use href="#bm" x="80" y="560"/><use href="#pf" x="640" y="560"/><use href="#by" x="1080" y="560"/><use href="#pf" x="1520" y="560"/><use href="#bm" x="2080" y="560"/><use href="#sp" x="680" y="600"/><use href="#by" x="1280" y="600"/><use href="#by" x="1920" y="600"/><use href="#sp" x="2040" y="600"/><use href="#bt" x="600" y="640"/><use href="#gt" x="680" y="640"/><use href="#po" x="1600" y="640"/><use href="#bb" x="1640" y="640"/><use href="#fr2" x="400" y="680"/><use href="#gt" x="680" y="680"/><use href="#br" x="1600" y="680"/><use href="#po" x="1640" y="680"/><use href="#bm" x="1800" y="680"/><use href="#gp" x="1560" y="760"/><use href="#bm" x="1640" y="800"/><use href="#sp" x="1680" y="800"/><use href="#sp" x="1640" y="840"/><use href="#sp" x="1200" y="960"/><use href="#sp" x="1240" y="960"/><use href="#sp" x="280" y="1000"/><use href="#sp" x="600" y="1080"/><use href="#sp" x="640" y="1080"/>
</svg>
</body></html>
